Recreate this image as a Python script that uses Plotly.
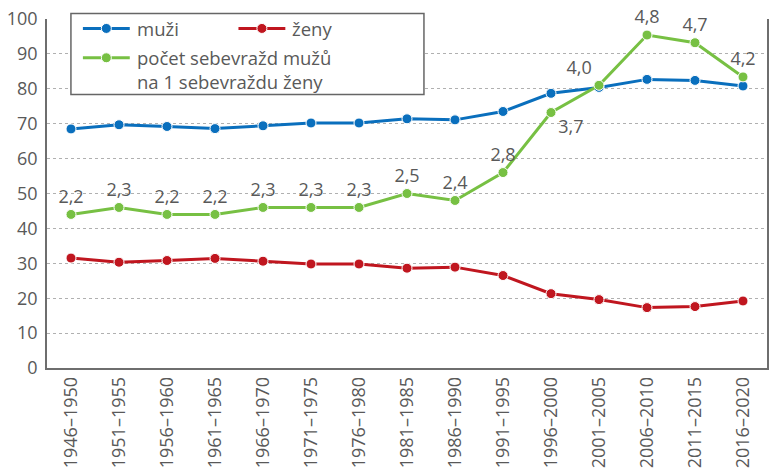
import plotly.graph_objects as go

# Five-year periods
periods = ["1946–1950", "1951–1955", "1956–1960", "1961–1965", "1966–1970",
           "1971–1975", "1976–1980", "1981–1985", "1986–1990", "1991–1995",
           "1996–2000", "2001–2005", "2006–2010", "2011–2015", "2016–2020"]

# Share of suicides (%) by sex
muzi = [68.5, 69.7, 69.2, 68.6, 69.4, 70.2, 70.2, 71.4, 71.1, 73.5,
        78.7, 80.4, 82.7, 82.4, 80.8]
zeny = [31.5, 30.3, 30.8, 31.4, 30.6, 29.8, 29.8, 28.6, 28.9, 26.5,
        21.3, 19.6, 17.3, 17.6, 19.2]

# Male suicides per one female suicide (right-hand scale 0–5, not shown)
pomer = [2.2, 2.3, 2.2, 2.2, 2.3, 2.3, 2.3, 2.5, 2.4, 2.8,
         3.66, 4.05, 4.77, 4.66, 4.17]

y_ticks = [0, 10, 20, 30, 40, 50, 60, 70, 80, 90, 100]

BLUE = "#0a6fbd"
RED = "#c0161f"
GREEN = "#77c043"
TEXT = "#595959"
FONT = "Open Sans"

pomer_labels = [f"{v:.1f}".replace(".", ",") for v in pomer]
label_pos = ["top center"] * len(pomer)
label_pos[10] = "bottom right"
label_pos[11] = "top left"

fig = go.Figure()

fig.add_trace(go.Scatter(
    x=periods, y=zeny, mode="lines+markers", name="ženy",
    line=dict(color=RED, width=3),
    marker=dict(size=10, color=RED, line=dict(color="white", width=1)),
))
fig.add_trace(go.Scatter(
    x=periods, y=muzi, mode="lines+markers", name="muži",
    line=dict(color=BLUE, width=3),
    marker=dict(size=10, color=BLUE, line=dict(color="white", width=1)),
))
fig.add_trace(go.Scatter(
    x=periods, y=pomer, yaxis="y2", mode="lines+markers+text",
    name="počet sebevražd mužů na 1 sebevraždu ženy",
    line=dict(color=GREEN, width=3),
    marker=dict(size=10, color=GREEN, line=dict(color="white", width=1)),
    text=pomer_labels, textposition=label_pos, cliponaxis=False,
    textfont=dict(family=FONT, size=18, color=TEXT),
))

# Hand-drawn legend box in paper coordinates
L, T, B, W, H = 47, 19, 370, 722, 351


def px(xp):
    return (xp - L) / W


def py(yp):
    return (B - yp) / H


LEG_SIZE = 18.5
shapes = [dict(type="rect", xref="paper", yref="paper",
               x0=px(71), x1=px(425), y0=py(95), y1=py(13.5),
               line=dict(color="#666666", width=1.5), fillcolor="white",
               layer="above")]
annotations = []
items = [(BLUE, 83, 28.5, 28.5, "muži"), (RED, 239, 28.5, 28.5, "ženy"),
         (GREEN, 83, 58, 69.5, "počet sebevražd mužů<br>na 1 sebevraždu ženy")]
for color, x0, yc, ytext, label in items:
    shapes.append(dict(type="line", xref="paper", yref="paper",
                       x0=px(x0), x1=px(x0 + 47), y0=py(yc), y1=py(yc),
                       line=dict(color=color, width=3), layer="above"))
    shapes.append(dict(type="circle", xref="paper", yref="paper",
                       xsizemode="pixel", ysizemode="pixel",
                       xanchor=px(x0 + 23.5), yanchor=py(yc),
                       x0=-5, x1=5, y0=-5, y1=5,
                       fillcolor=color, line=dict(color="white", width=1),
                       layer="above"))
    annotations.append(dict(xref="paper", yref="paper", x=px(x0 + 52), y=py(ytext),
                            xanchor="left", yanchor="middle", align="left",
                            showarrow=False, text=label,
                            font=dict(family=FONT, size=LEG_SIZE, color=TEXT)))

fig.update_layout(
    width=771, height=470,
    margin=dict(l=L, r=771 - L - W, t=T, b=470 - B),
    paper_bgcolor="white", plot_bgcolor="white",
    showlegend=False,
    font=dict(family=FONT, size=17, color=TEXT),
    xaxis=dict(
        type="category", range=[-0.5, len(periods) - 0.5],
        showline=True, linecolor="#6e6e6e", linewidth=1.5,
        showgrid=False, ticks="", tickangle=-90,
        tickfont=dict(family=FONT, size=18, color=TEXT),
    ),
    yaxis=dict(
        range=[0, 100], tickvals=y_ticks,
        showline=True, linecolor="#6e6e6e", linewidth=1.5, mirror=True,
        showgrid=True, gridcolor="#b0b0b0", gridwidth=1, griddash="3px,3px",
        zeroline=False, ticks="", ticklabelstandoff=4,
        tickfont=dict(family=FONT, size=18, color=TEXT),
    ),
    yaxis2=dict(range=[0, 5], overlaying="y", visible=False),
    shapes=shapes,
    annotations=annotations,
)

fig.write_html("out.html")
